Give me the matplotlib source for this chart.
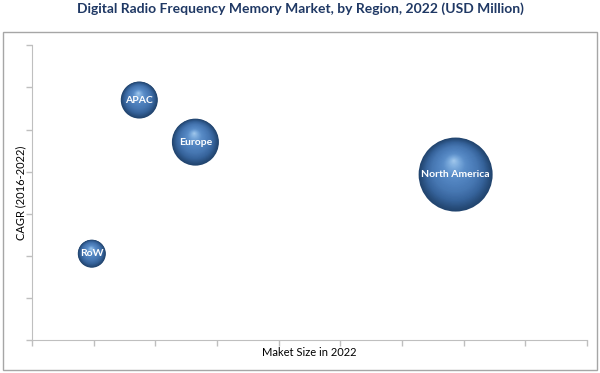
import numpy as np
import matplotlib
matplotlib.use("Agg")
import matplotlib.pyplot as plt
from matplotlib import transforms
from matplotlib.colors import LinearSegmentedColormap
from matplotlib.patches import Rectangle

# values (axes have no tick labels, so units are tick steps)
regions = ["APAC", "Europe", "North America", "RoW"]
market_size = [1.74, 2.65, 6.87, 0.97]
cagr = [5.70, 4.70, 3.93, 2.05]
bubble = [18.5, 23.5, 37.0, 14.0]

plt.rcParams["font.family"] = ["Lato", "DejaVu Sans"]

fig = plt.figure(figsize=(6, 3.73), dpi=100)
ax = fig.add_axes([0.0533, 0.0885, 0.925, 0.79])

# outer frame of the chart
fig.patches.append(Rectangle((0.005, 0.008), 0.99, 0.906, transform=fig.transFigure,
                             fill=False, edgecolor="#a6a6a6", lw=1.0))

fig.text(0.5, 0.978, "Digital Radio Frequency Memory Market, by Region, 2022 (USD Million)",
         ha="center", va="center", fontsize=10, fontweight="bold", color="#1f3864")

cmap = LinearSegmentedColormap.from_list(
    "sphere", ["#22456f", "#36639b", "#4676b1", "#4f81bd", "#5a8dc8", "#7aaadc", "#a6cbee"])

n = 40
px2pt = 72 / fig.dpi
for x, y, r in zip(market_size, cagr, bubble):
    for k in range(n):
        t = k / n
        rad = r * (1 - t)
        off = transforms.offset_copy(ax.transData, fig=fig, x=-0.05 * r * t * px2pt,
                                     y=0.38 * r * t * px2pt, units="points")
        ax.scatter([x], [y], s=(2 * rad * px2pt) ** 2, color=cmap(t ** 1.1),
                   transform=off, edgecolors="none", zorder=3 + k * 0.01)

for x, y, name in zip(market_size, cagr, regions):
    ax.text(x, y, name, ha="center", va="center", color="white", fontsize=7.5,
            fontweight="bold", zorder=10)

ax.set_xlim(0, 9)
ax.set_ylim(0, 7)
ax.set_xticks(range(10))
ax.set_yticks(range(8))
ax.tick_params(labelleft=False, labelbottom=False, length=4, color="#bfbfbf", width=1)
for s in ["top", "right"]:
    ax.spines[s].set_visible(False)
for s in ["left", "bottom"]:
    ax.spines[s].set_color("#bfbfbf")

ax.set_xlabel("Maket Size in 2022", fontsize=8, labelpad=1)
ax.set_ylabel("CAGR (2016-2022)", fontsize=8, labelpad=0)

fig.savefig("out.png", dpi=100)
